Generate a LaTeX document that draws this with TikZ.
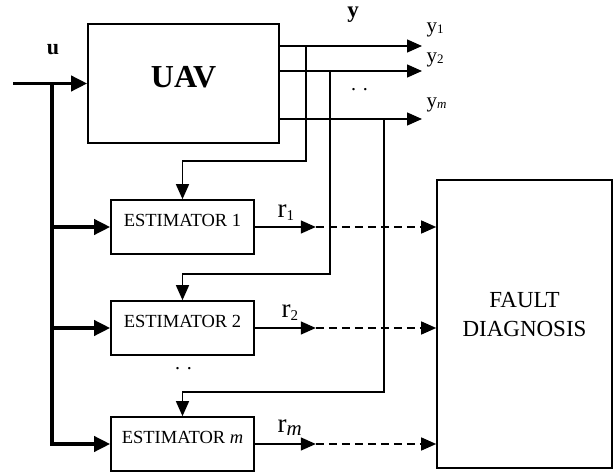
\documentclass[tikz,border=0pt]{standalone}
\usepackage{fontspec}
\setmainfont{Liberation Serif}
\usetikzlibrary{arrows.meta}
\begin{document}
\begin{tikzpicture}[x=1pt,y=-1pt,line width=1.4pt,
  block/.style={draw,line width=1.6pt,inner sep=0pt},
  est/.style={block,minimum width=143pt,minimum height=54pt,
    font=\fontsize{18.5}{20}\selectfont,text height=12.2pt,text depth=14pt},
  sig/.style={-{Triangle[length=15pt,width=13pt]}},
  bus/.style={line width=3.6pt},
  busarrow/.style={-{Triangle[length=16pt,width=15pt]}},
  resid/.style={dash pattern=on 8pt off 5pt},
  rlabel/.style={anchor=base west,inner sep=0pt,font=\fontsize{27}{27}\selectfont},
  ylabel/.style={anchor=base west,inner sep=0pt,font=\fontsize{21}{21}\selectfont}]
\useasboundingbox (0,0) rectangle (614,473);

% blocks
\node[block,minimum width=191pt,minimum height=119pt,
  font=\fontsize{32}{32}\selectfont\bfseries,text height=21pt,text depth=12pt]
  (uav) at (183.5,83.5) {UAV};
\node[est] (est1) at (182.5,227) {ESTIMATOR 1};
\node[est] (est2) at (182.5,328) {ESTIMATOR 2};
\node[est] (estm) at (182.5,444) {ESTIMATOR \textit{m}};
\node[block,minimum width=175pt,minimum height=288pt,align=center,
  font=\fontsize{23}{29}\selectfont] (fault) at (524.5,324) {FAULT\\DIAGNOSIS\\[-10pt]\mbox{}};

% input u and bus
\coordinate (uin) at (13,83.5);
\coordinate (bustop) at (52,83.5);
\draw[bus,busarrow] (uin) -- (uav.west);
\draw[bus] (bustop) -- (bustop |- est1.west);
\draw[bus,busarrow] (bustop |- est1.west) -- (est1.west);
\draw[bus,busarrow] (bustop |- est2.west) -- (est2.west);
\draw[bus,busarrow] (bustop |- est1.west) -- (bustop |- estm.west) -- (estm.west);
\node[font=\fontsize{22}{22}\selectfont\bfseries,anchor=base] (lu) at (53,55) {u};

% outputs y
\coordinate (y1) at (422,46);
\coordinate (y2) at (422,71);
\coordinate (ym) at (422,119);
\draw[sig] (uav.east |- y1) -- (y1);
\draw[sig] (uav.east |- y2) -- (y2);
\draw[sig] (uav.east |- ym) -- (ym);
\node[font=\fontsize{23}{23}\selectfont\bfseries,anchor=base] (ly) at (353,17.5) {y};
\node[ylabel] (ly1) at (426,33) {y\raisebox{-1pt}{\fontsize{13}{13}\selectfont 1}};
\node[ylabel] (ly2) at (426,63) {y\raisebox{-1pt}{\fontsize{13}{13}\selectfont 2}};
\node[ylabel] (lym) at (426,108) {y\raisebox{-1pt}{\fontsize{13}{13}\selectfont\itshape m}};
\node[font=\fontsize{20}{20}\selectfont,anchor=base] (dy) at (359.5,90.5) {. .};

% feedback of the outputs
\coordinate (tap1) at (306,46);
\coordinate (tap2) at (330,71);
\coordinate (tapm) at (384,119);
\draw[sig] (tap1) |- ([yshift=38pt]est1.north) -- (est1.north);
\draw[sig] (tap2) |- ([yshift=26pt]est2.north) -- (est2.north);
\draw[sig] (tapm) |- ([yshift=24pt]estm.north) -- (estm.north);
\node[font=\fontsize{20}{20}\selectfont,anchor=base] (de) at (183.5,369.5) {. .};

% residuals
\foreach \n in {1,2,m} {
  \coordinate (r\n) at ([xshift=61pt]est\n.east);
  \draw[sig] (est\n.east) -- (r\n);
  \draw[sig,resid] (r\n) -- (r\n -| fault.west);
}
\node[rlabel] (lr1) at (277,218) {r\raisebox{-3pt}{\fontsize{15}{15}\selectfont 1}};
\node[rlabel] (lr2) at (281,318) {r\raisebox{-3pt}{\fontsize{15}{15}\selectfont 2}};
\node[rlabel] (lrm) at (277,433) {r\raisebox{-2pt}{\fontsize{21}{21}\selectfont\itshape m}};
\end{tikzpicture}
\end{document}
